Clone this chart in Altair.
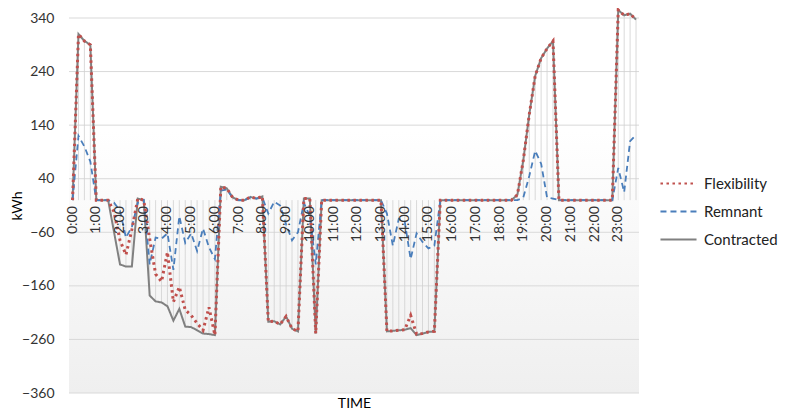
import altair as alt
import pandas as pd

series_order = ["Flexibility", "Remnant", "Contracted"]

contracted = [
    0, 310, 297, 290, 0, 0, 0, -60, -120, -124, -124, 3, 0,
    -178, -189, -191, -198, -225, -203, -236, -237, -243, -249, -250, -252,
    25, 22, 5, 0, 0, 6, 3, 7,
    -227, -226, -232, -217, -240, -245, 3, 3, -249, 0,
    0, 0, 0, 0, 0, 0, 0, 0, 0,
    0, -245, -244, -243, -242, -239, -252, -249, -246, -245, 0,
    0, 0, 0, 0, 0, 0, 0, 0, 0, 0, 0, 0,
    10, 75, 160, 232, 265, 283, 297, 0,
    0, 0, 0, 0, 0, 0, 0, 0, 0,
    355, 345, 348, 337,
]

flexibility = [
    0, 310, 297, 290, 0, 0, 0, -22, -75, -102, -55, 3, 0,
    -72, -138, -152, -97, -190, -162, -205, -215, -230, -243, -200, -252,
    25, 22, 5, 0, 0, 6, 3, 7,
    -227, -226, -232, -217, -240, -245, 3, 3, -249, 0,
    0, 0, 0, 0, 0, 0, 0, 0, 0,
    0, -245, -244, -243, -242, -215, -250, -249, -246, -245, 0,
    0, 0, 0, 0, 0, 0, 0, 0, 0, 0, 0, 0,
    10, 75, 160, 232, 265, 283, 297, 0,
    0, 0, 0, 0, 0, 0, 0, 0, 0,
    355, 345, 348, 337,
]

remnant = [
    0, 120, 100, 72, 0, 0, 0, -5, -20, -70, -50, -5, 0,
    -120, -70, -72, -62, -130, -30, -80, -62, -95, -53, -88, -110,
    18, 20, 4, 0, 0, 5, 3, 5,
    -25, -3, -10, -45, -75, -60, -5, -30, -120, 0,
    0, 0, 0, 0, 0, 0, 0, 0, 0,
    0, -25, -85, -35, -40, -110, -62, -78, -90, -85, 0,
    0, 0, 0, 0, 0, 0, 0, 0, 0, 0, 0, 0,
    0, 5, 45, 92, 68, 5, 3, 0,
    0, 0, 0, 0, 0, 0, 0, 0, 0,
    60, 15, 110, 122,
]

hour_labels = [f"{h}:00" for h in range(24)]
y_ticks = [-360, -260, -160, -60, 40, 140, 240, 340]

n = len(contracted)
idx = list(range(n))

long_df = pd.DataFrame({
    "idx": idx * 3,
    "series": ["Flexibility"] * n + ["Remnant"] * n + ["Contracted"] * n,
    "value": flexibility + remnant + contracted,
})
drop_df = pd.DataFrame({"idx": idx, "value": contracted, "zero": [0] * n})
lab_df = pd.DataFrame({"idx": [h * 4 for h in range(24)], "label": hour_labels, "zero": [0] * 24})
grid_df = pd.DataFrame({"y": y_ticks})

FONT = "Lato"
X0, X1 = -0.6, 95.5
xscale = alt.Scale(domain=[X0, X1], nice=False, zero=False)
yscale = alt.Scale(domain=[-360, 340], nice=False, zero=False)
xaxis = alt.Axis(title="TIME", labels=False, ticks=False, domain=False, grid=False,
                 titleFont=FONT, titleFontSize=14, titleFontWeight="normal",
                 titleColor="#000000", titlePadding=3)
yaxis = alt.Axis(title="kWh", values=y_ticks, grid=False, domain=False, ticks=False,
                 labelFont=FONT, labelFontSize=14, labelColor="#333333", labelPadding=15,
                 titleFont=FONT, titleFontSize=14, titleFontWeight="normal",
                 titleColor="#000000", titleX=-45, titleBaseline="bottom")


def X(field="idx:Q", **kw):
    return alt.X(field, scale=xscale, axis=xaxis, title="TIME", **kw)


def Y(field, **kw):
    return alt.Y(field, scale=yscale, axis=yaxis, title="kWh", **kw)


color_scale = alt.Scale(domain=series_order, range=["#c0504d", "#4a7ebb", "#808080"])
dash_scale = alt.Scale(domain=series_order, range=[[2.5, 3.5], [6, 4], [1, 0]])
legend = alt.Legend(title=None, orient="none", legendX=590, legendY=146,
                    symbolType="stroke", symbolSize=1300, symbolStrokeWidth=2.2,
                    labelFont=FONT, labelFontSize=15, labelColor="#222222",
                    rowPadding=-8, labelOffset=6)

bg = alt.Chart(pd.DataFrame({"a": [0]})).mark_rect(
    color=alt.Gradient(gradient="linear",
                       stops=[alt.GradientStop(color="#ffffff", offset=0),
                              alt.GradientStop(color="#ffffff", offset=0.3),
                              alt.GradientStop(color="#efefef", offset=1)],
                       x1=0, x2=0, y1=0, y2=1)
).encode(
    x=alt.X(datum=X0, scale=xscale, axis=xaxis, title="TIME"),
    x2=alt.X2(datum=X1),
    y=alt.Y(datum=340, scale=yscale, axis=yaxis, title="kWh"),
    y2=alt.Y2(datum=-360),
)

grid = alt.Chart(grid_df).mark_rule(color="#d9d9d9", strokeWidth=1).encode(y=Y("y:Q"))

drops = alt.Chart(drop_df).mark_rule(color="#d0d0d0", strokeWidth=0.8).encode(
    x=X(), y=Y("value:Q"), y2="zero:Q")


def line_layer(name, width, cap="butt"):
    return alt.Chart(long_df).transform_filter(alt.datum.series == name).mark_line(
        strokeWidth=width, strokeCap=cap
    ).encode(
        x=X(), y=Y("value:Q"),
        color=alt.Color("series:N", scale=color_scale, legend=legend, sort=series_order),
        strokeDash=alt.StrokeDash("series:N", scale=dash_scale, legend=legend, sort=series_order),
    )


lines = [line_layer("Contracted", 2.0), line_layer("Remnant", 1.8), line_layer("Flexibility", 3.0)]

labels = alt.Chart(lab_df).mark_text(
    angle=270, align="right", baseline="middle", dx=-6,
    font=FONT, fontSize=14, color="#333333"
).encode(x=X(), y=Y("zero:Q"), text="label:N")

chart = alt.layer(bg, grid, drops, *lines, labels).properties(
    width=570, height=375,
    autosize=alt.AutoSizeParams(type="none"),
    padding={"left": 61, "top": 10, "right": 140, "bottom": 22},
).configure_view(stroke=None)

chart.save("out.html", embed_options={"renderer": "svg", "actions": False})
